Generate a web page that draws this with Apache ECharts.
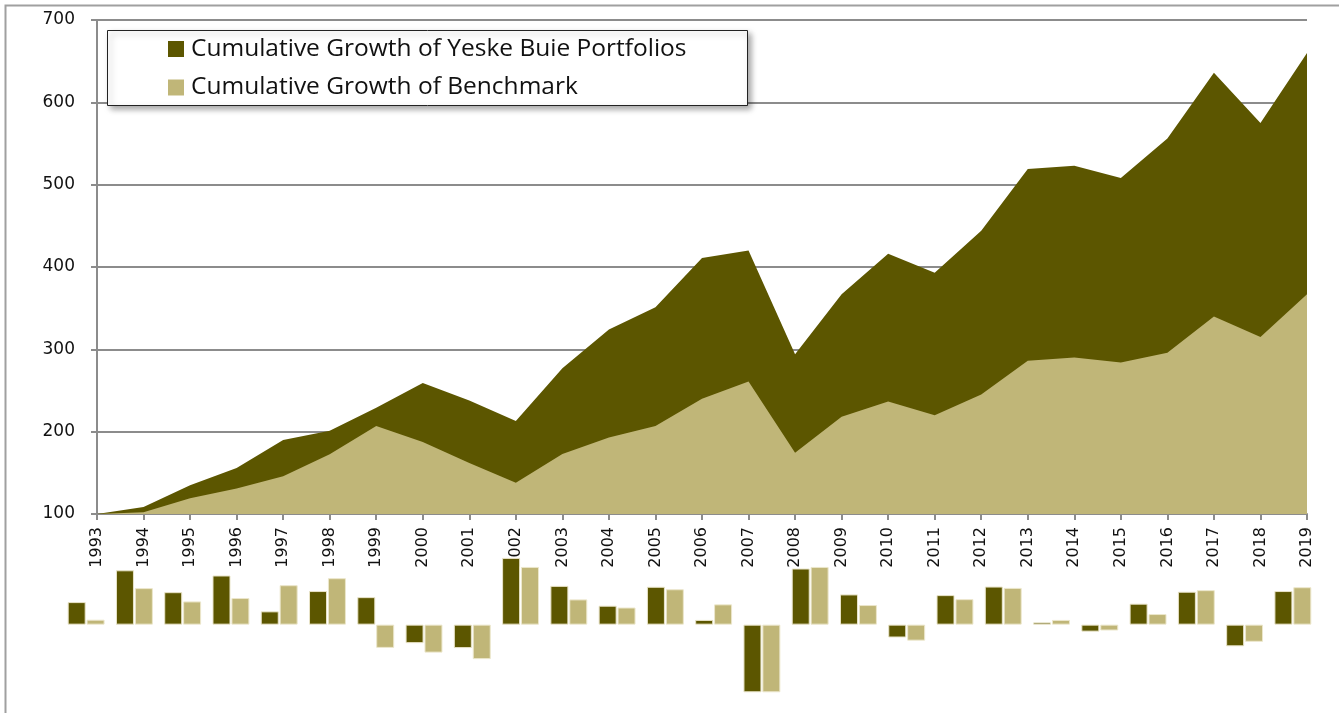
<!DOCTYPE html>
<html>
<head>
<meta charset="utf-8">
<title>Cumulative Growth</title>
<script src="https://cdn.jsdelivr.net/npm/echarts@6/dist/echarts.min.js"></script>
<style>
    html, body { margin: 0; padding: 0; background: #fff; }
    #main { width: 1339px; height: 713px; }
</style>
</head>
<body>
<div id="main"></div>
<script>
// years on the growth chart
var years = ['1993','1994','1995','1996','1997','1998','1999','2000','2001','2002','2003','2004','2005','2006',
    '2007','2008','2009','2010','2011','2012','2013','2014','2015','2016','2017','2018','2019'];
// cumulative growth (start = 100)
var portfolioGrowth = [100, 108.5, 135, 156, 190, 201, 229, 259, 238, 213, 277, 324, 351, 411,
    420, 294, 367, 416, 393, 444, 519, 523, 508, 556, 636, 575, 660];
var benchmarkGrowth = [100, 102, 119, 131, 146, 172.5, 207, 187.5, 162, 138, 173, 193, 207, 240,
    261, 174.5, 218, 236.5, 220, 245, 286, 290, 284, 296, 340, 315, 367];
// annual returns (%) shown as bars, one pair per year 1994-2019
var returnYears = years.slice(1);
var portfolioReturns = [10.0, 24.1, 14.4, 21.8, 5.9, 14.9, 12.2, -8.2, -10.4, 29.6, 17.2, 8.4, 16.8,
    2.1, -30, 24.9, 13.4, -5.7, 13.1, 16.9, 1.0, -3.1, 9.3, 14.6, -9.6, 14.9];
var benchmarkReturns = [2.2, 16.2, 10.3, 11.8, 17.5, 20.6, -10.3, -12.4, -15.3, 25.6, 11.2, 7.6, 15.7,
    9.0, -30, 25.6, 8.7, -7.1, 11.3, 16.3, 2.1, -2.6, 4.7, 15.3, -7.6, 16.6];

var darkColor = '#5c5600',
    lightColor = '#c0b678';

var chart = echarts.init(document.getElementById('main'));

var option = {
    animation: false,
    textStyle: { fontFamily: 'DejaVu Sans' },
    graphic: [
        {
            type: 'rect',
            z: 0,
            shape: { x: 5.5, y: 5.5, width: 1400, height: 800 },
            style: { fill: 'none', stroke: '#a0a0a0', lineWidth: 2 }
        },
        {
            type: 'rect',
            z: 3,
            shape: { x: 107.5, y: 30.5, width: 640, height: 75 },
            style: {
                fill: '#fff', stroke: '#222', lineWidth: 1,
                shadowColor: 'rgba(0,0,0,0.35)', shadowBlur: 6, shadowOffsetX: 3, shadowOffsetY: 3
            }
        }
    ],
    legend: {
        z: 4,
        orient: 'vertical',
        left: 163,
        top: 31.5,
        itemWidth: 16,
        itemHeight: 16,
        itemGap: 13.5,
        selectedMode: false,
        icon: 'rect',
        textStyle: { fontFamily: 'Open Sans', fontSize: 24.5, color: '#111', padding: [0, 0, 0, 2] },
        data: ['Cumulative Growth of Yeske Buie Portfolios', 'Cumulative Growth of Benchmark']
    },
    grid: [
        { left: 97, right: 32, top: 20, bottom: 199 },
        { left: 62, right: 22, top: 557, bottom: 20.7 }
    ],
    xAxis: [
        {
            type: 'category',
            gridIndex: 0,
            boundaryGap: false,
            data: years,
            axisLine: { lineStyle: { color: '#8c8c8c', width: 2 } },
            axisTick: { length: 6, lineStyle: { color: '#8c8c8c', width: 2 }, alignWithLabel: true },
            axisLabel: { rotate: 90, margin: 13, fontSize: 16, color: '#111' },
            splitLine: { show: false }
        },
        {
            type: 'category',
            gridIndex: 1,
            data: returnYears,
            show: false
        }
    ],
    yAxis: [
        {
            type: 'value',
            gridIndex: 0,
            min: 100,
            max: 700,
            interval: 100,
            axisLine: { show: true, lineStyle: { color: '#8c8c8c', width: 2 } },
            axisTick: { show: true, length: 6, lineStyle: { color: '#8c8c8c', width: 2 } },
            axisLabel: { fontSize: 17, color: '#111', margin: 22 },
            splitLine: { lineStyle: { color: '#8c8c8c', width: 2 } }
        },
        {
            type: 'value',
            gridIndex: 1,
            min: -30,
            max: 30,
            show: false,
            splitLine: { show: false }
        }
    ],
    series: [
        {
            name: 'Cumulative Growth of Yeske Buie Portfolios',
            type: 'line',
            xAxisIndex: 0,
            yAxisIndex: 0,
            data: portfolioGrowth,
            symbol: 'none',
            color: darkColor,
            lineStyle: { width: 0 },
            areaStyle: { color: darkColor, opacity: 1, origin: 'start' }
        },
        {
            name: 'Cumulative Growth of Benchmark',
            type: 'line',
            xAxisIndex: 0,
            yAxisIndex: 0,
            data: benchmarkGrowth,
            symbol: 'none',
            color: lightColor,
            lineStyle: { width: 0 },
            areaStyle: { color: lightColor, opacity: 1, origin: 'start' }
        },
        {
            name: 'portfolioReturns',
            type: 'bar',
            xAxisIndex: 1,
            yAxisIndex: 1,
            data: portfolioReturns,
            barWidth: 18,
            barGap: '5%',
            itemStyle: { color: darkColor, borderColor: '#e9e4c8', borderWidth: 1 }
        },
        {
            name: 'benchmarkReturns',
            type: 'bar',
            xAxisIndex: 1,
            yAxisIndex: 1,
            data: benchmarkReturns,
            barWidth: 18,
            barGap: '5%',
            itemStyle: { color: lightColor, borderColor: '#ece7cc', borderWidth: 1 }
        }
    ]
};
chart.setOption(option);
</script>
</body>
</html>
